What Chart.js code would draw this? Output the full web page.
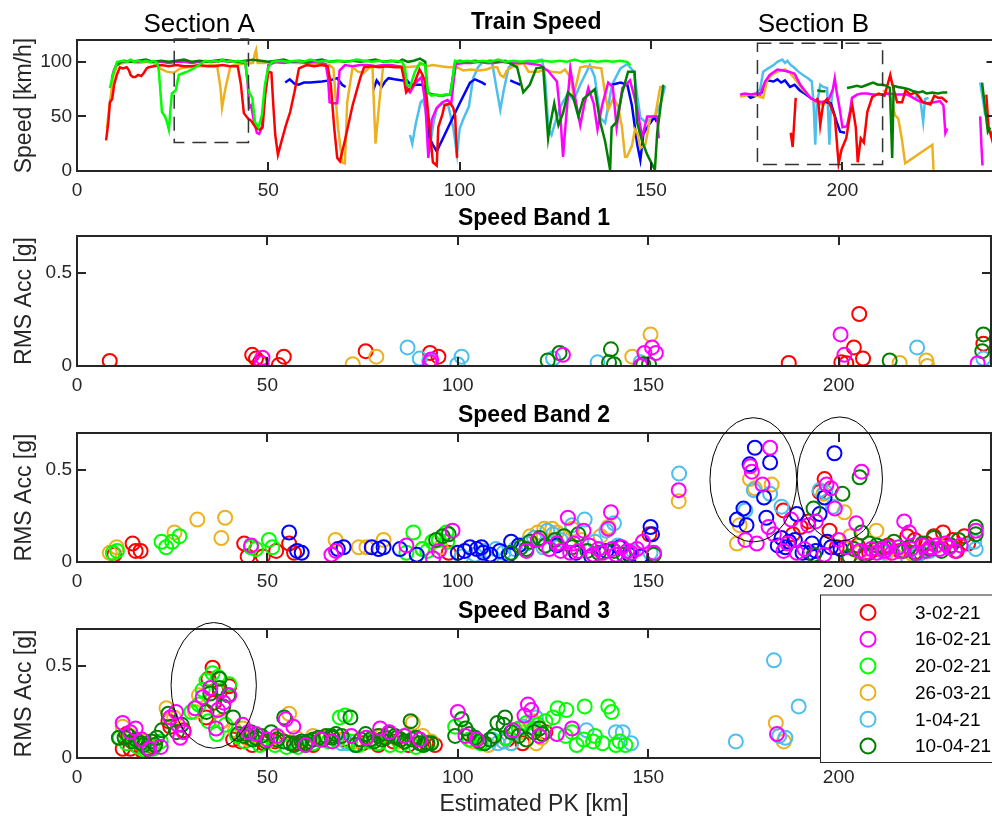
<!DOCTYPE html>
<html lang="en">
<head>
<meta charset="UTF-8">
<title>Train Speed and RMS Acceleration</title>
<script src="https://cdn.jsdelivr.net/npm/chart.js"></script>
<style>
    body { margin: 0; background: #fff; overflow: hidden; width: 992px; height: 819px; }
    .panel { position: absolute; left: 0; }
</style>
</head>
<body>
<canvas id="speedChart" class="panel" style="top:0px" width="1000" height="205"></canvas>
<canvas id="band1Chart" class="panel" style="top:196px" width="1000" height="205"></canvas>
<canvas id="band2Chart" class="panel" style="top:393px" width="1000" height="204"></canvas>
<canvas id="band3Chart" class="panel" style="top:589px" width="1000" height="230"></canvas>
<script>
// axis ticks
const pkTicks = [0, 50, 100, 150, 200];
const speedTicks = [0, 50, 100];
const accTicks = [0, 0.5];

// measurement runs (legend order)
const runDates = ['3-02-21', '16-02-21', '20-02-21', '26-03-21', '1-04-21', '10-04-21'];

// train speed [PK km, km/h]; [x, null] breaks the line
const spd3feb = [[7.6,28],[8.2,45],[8.6,63],[9.2,66],[9.7,79],[10.4,88],[11.2,95],[12,94],[13,95],[13.6,92],[14,88],[14.6,86],[15.2,86],[16,88],[16.8,87],[17.5,90],[18.2,94],[18.7,95],[20,96],[22,97],[24,96],[26,97],[28,96],[30,96],[32,97],[34,96],[36,96],[38,97],[40,96],[42,96],[42.8,80],[43.6,53],[44.7,48],[45.5,46],[46.3,42],[47,39],[47.8,38],[48.5,40],[49.2,70],[50,91],[50.8,90],[51.3,60],[51.8,33],[52.5,15],[53.5,28],[54.6,42],[55.7,54],[56.8,72],[58,94],[60,97],[62,96],[64,97],[65.5,96],[66.3,80],[67.2,40],[68,12],[68.7,9],[70,28],[72,60],[74,85],[75,95],[77,96],[79,95],[81,96],[83,95],[84.8,95],[85.4,85],[86,72],[87,76],[88,79],[89.5,93],[90.3,88],[91,81],[91.7,55],[92.3,33],[93,8],[94,5],[94.4,40],[95.5,52],[96,60],[97.5,62],[98.3,58],[98.8,51],[99.3,12],[140,null],
    [186.5,35],[187,22],[187.8,67],[190,null],
    [193.4,67],[193.8,60],[194.2,42],[195,62],[196,66],[197,59],[198,50],[199,7],[199.8,20],[201,30],[202,52],[202.6,60],[203.5,40],[204,8],[204.8,30],[205.6,26],[206.5,54],[207.8,68],[209.5,71],[211,69],[212.5,88],[213,80],[214.3,63],[215.6,63],[216.5,74],[217.8,70],[219,72],[220,68],[221,63],[222,62],[223,61],[224,69],[225,67],[226,67],[227.4,63],[230,null],
    [237.6,70],[238.2,40],[239,30],[240,50]];
const spd16feb = [[9.1,85],[9.6,92],[10.5,99],[12,100],[14,101],[16,100],[18,101],[20,100],[22,100],[24,99],[26,100],[28,100],[30,99],[32,100],[34,100],[36,100],[38,101],[40,100],[42,100],[44,99],[44.6,80],[45,58],[45.5,60],[46.2,46],[47,35],[47.6,34],[48.3,40],[49,70],[50,97],[52,100],[54,99],[56,100],[58,100],[60,99],[62,100],[64,99],[65,98],[65.6,85],[66,63],[67,62],[68,62],[68.6,92],[70,97],[72,96],[74,97],[76,97],[78,96],[80,97],[82,97],[84,96],[85.5,95],[86.2,76],[87,72],[88,78],[88.8,82],[90,86],[91,63],[91.8,12],[92.7,47],[94,58],[95.5,63],[96.8,65],[97.8,62],[98.5,85],[99,98],[101,99],[103,99],[105,100],[107,99],[109,99],[111,100],[113,99],[115,99],[117,99],[119,98],[121,97],[123,92],[125.4,82],[126.3,50],[127,13],[127.6,40],[128.9,94],[130,70],[131.5,42],[132.5,60],[133.6,76],[135,62],[136,38],[137.2,60],[138.8,81],[140,77],[141,40],[142.5,76],[144.5,83],[145.5,70],[146.4,56],[147.7,31],[149,50],[150.5,50],[151.6,50],[152,30],[160,null],
    [173.3,70],[174.5,71],[176,70],[177.5,71],[178.5,70],[179.8,82],[181,88],[183,93],[184.5,92],[186,91],[187.5,89],[189,79],[190.3,73],[191.6,67],[193,64],[194.2,63],[195.5,64],[196.5,66],[197.5,75],[198,85],[198.6,70],[199,63],[199.6,50],[200,40],[201.2,41],[202,55],[202.5,67],[203.8,70],[205,71],[206.4,71],[208,70],[210,70],[212,71],[214,70],[216,70],[217,70],[218.5,67],[220,64],[222,62],[224,63],[225.5,64],[226.4,60],[226.9,35],[227.4,39],[230,null],
    [236,50],[236.3,25],[236.6,5]];
const spd20feb = [[8.6,76],[9.5,90],[10.5,100],[12,101],[13,100],[14,102],[15,100],[16,101],[17,100],[18,101],[19,100],[20,101],[21,99],[21.4,91],[22.2,54],[23,50],[23.5,45],[24,38],[24.5,60],[24.8,71],[25.8,74],[26.6,88],[28,90],[28.8,91],[30,93],[31.4,96],[33.5,101],[35,100],[36,101],[37,100],[38,102],[39,100],[40,101],[41,100],[42,101],[43,100],[43.9,100],[45,72],[45.8,67],[46.5,45],[47.4,40],[48.3,51],[49.1,79],[50,95],[51,100],[53,101],[55,100],[57,101],[59,100],[61,102],[63,100],[65,101],[67,100],[69,101],[71,100],[73,102],[75,101],[77,100],[79,101],[81,100],[83,101],[85,100],[85.7,94],[86.2,79],[87,77],[88.3,91],[89.6,99],[91,97],[91.7,72],[92.6,69],[94,70],[95,69],[96,70],[97.5,70],[98.2,85],[98.8,101],[100,100],[102,101],[104,100],[106,101],[108,100],[110,102],[112,100],[114,101],[116,100],[118,101],[120,100],[122,101],[124,100],[126,101],[128,100],[130,102],[132,100],[134,101],[136,100],[138,101],[140,100],[142,101],[143.7,100],[144.6,97]];
const spd26mar = [[7.8,39],[8.6,63],[9.5,87],[10.5,97],[12,99],[14,100],[16,99],[18,100],[20,99],[21.7,94],[23.4,91],[25.3,90],[27,94],[29,95],[31,96],[33,96],[35,97],[36.6,97],[37.5,76],[37.9,58],[38.8,76],[40.1,96],[42,98],[44,98],[46,99],[46.5,108],[46.8,111],[47.2,99],[49,99],[51,100],[53,99],[55,100],[57,99],[59,99],[61,98],[63,98],[65,97],[66,97],[67,94],[68.2,40],[69.3,8],[70,7],[70.6,63],[72,95],[73.4,91],[75,90],[76.2,94],[77.2,96],[77.6,60],[78,25],[79,63],[80,96],[82,96],[84,96],[86,95],[88.8,96],[90,98],[91.5,96],[93,97],[95,96],[97,95],[99.3,95],[101,92],[103,93],[105,92],[107,93],[108.5,95],[109.8,95],[110.6,88],[111.5,86],[112.3,92],[114,96],[116.6,99],[118,91],[120.7,91],[122,93],[124,91],[126.3,90],[127.5,93],[128.9,86],[129.7,71],[130.5,80],[131.5,95],[133,96],[135,95],[137,94],[138,70],[138.8,56],[140.2,67],[141.4,59],[142.4,40],[143.2,13],[143.7,13],[145,23],[145.8,38],[146.4,35],[147.2,21],[148.5,24],[149.8,49],[151.1,51],[152.4,77],[153.2,77],[160,null],
    [173.3,68],[174.5,69],[176,70],[177.5,69],[179.3,67],[180.3,83],[181.5,88],[183,91],[185,93],[186.2,90],[187.2,86],[188.5,80],[189.7,74],[191,70],[192.3,65],[193.5,62],[194.5,61],[195.5,61],[200,null],
    [210.6,74],[211.5,72],[212.5,68],[213.8,51],[214.6,48],[215.5,30],[216.4,7],[223.5,24],[223.8,1]];
const spd1apr = [[87,33],[87.6,25],[88.5,43],[89.8,63],[90.4,65],[91,57],[92.3,24],[93.2,45],[94,57],[95.5,62],[97,60],[98.3,40],[99.3,15],[100,39],[101,48],[102.4,59],[103.5,85],[104.8,95],[106,100],[107.3,99],[108.5,99],[109.4,80],[110.6,56],[111.5,74],[112.8,95],[114,99],[116,100],[118,99],[120,101],[121.5,102],[122.3,86],[123.2,38],[124,33],[125,45],[126.3,59],[128.3,71],[129.8,65],[131.5,79],[134,97],[135.3,86],[136.7,49],[138,44],[139.8,79],[142,94],[143.8,98],[145.5,91],[147.2,49],[148.5,45],[150,48],[151,50],[152.5,62],[153.7,78],[160,null],
    [173.3,69],[175,70],[177,69],[178.5,75],[179.3,91],[180.6,94],[182,97],[183,100],[184.3,102],[185,99],[185.6,101],[186.5,97],[187.3,95],[188.5,91],[189.7,88],[191,85],[192,82],[192.5,60],[192.9,24],[193.3,60],[194.2,79],[195,77],[196,76],[196.3,50],[196.6,24],[197,60],[197.5,74],[210,null],
    [219,68],[220.3,67],[221.1,45],[221.6,66],[222.5,67],[230,null],
    [236,81],[236.7,66],[237.3,51]];
const spd10apr = [[10.5,97],[11.5,100],[12.3,101],[14,100],[16,101],[18,102],[20,100],[22,101],[24,100],[26,101],[28,102],[30,100],[32,101],[34,100],[36,101],[38,102],[40,101],[42,100],[44,101],[46,102],[48,101],[50,100],[52,101],[54,102],[56,100],[58,101],[60,100],[62,101],[64,102],[66,100],[68,101],[70,100],[72,101],[74,100],[76,101],[78,102],[80,100],[82,101],[84,100],[85,102],[86.5,100],[88,101],[89.6,103],[91,100],[91.5,72],[93,70],[95,69],[97.5,70],[98.8,100],[100,101],[102,100],[104,101],[106,100],[108,101],[110,100],[112,101],[114,97],[115,95],[116.6,72],[118.3,79],[120,94],[121.8,95],[122.3,70],[123.1,30],[123.5,40],[124.7,62],[125.8,42],[127,53],[128.3,72],[129.6,68],[131,50],[132.3,66],[134,71],[135.3,75],[136.7,45],[138,27],[139.3,1],[139.7,40],[141,45],[142.4,71],[144,91],[145.7,91],[146.3,45],[147.7,27],[149,15],[151,1],[151.6,35],[153.2,79],[170,null],
    [193.4,74],[194.5,73],[195.6,73],[198,null],
    [201.2,76],[202.5,77],[203.8,78],[205,77],[206.5,79],[208,81],[209.3,79],[210.6,79],[211.5,78],[212.4,76],[213,12],[213.4,78],[214.5,77],[216,76],[217.3,75],[218.6,73],[220,72],[221,73],[222,71],[223.5,72],[225,71],[226.3,72],[227.4,72],[230,null],
    [236.5,81],[237.2,60],[238,36],[238.6,40]];
const spdOther = [[54.4,81],[55.6,84],[56.8,80],[57.9,79],[59.3,81],[60.9,81],[64,82],[66,83],[68,85],[69.3,79],[70.2,77],[74,null],
    [77.4,74],[78.3,83],[79.6,77],[80.5,82],[81.4,85],[83,84],[85,83],[86,84],[87.2,79],[88.3,79],[90,79],[91,77],[91.7,33],[93,24],[94,18],[97,40],[100,62],[102.7,81],[104,84],[105.9,81],[106.8,79],[110,null],
    [113.2,83],[114.5,81],[115.9,79],[130,null],
    [139.8,79],[142,81],[143.8,79],[145,60],[146.4,24],[147.2,10],[148,34],[149.4,42],[151,50],[151.4,45],[160,null],
    [175,70],[176,67],[177.5,69],[179,72],[180.3,83],[182,82],[183,84],[184,81],[185,83],[186.3,77],[187.5,79],[188.8,74],[190.5,70],[192,66],[193.2,64],[194.5,63],[195.9,63],[197,62],[198.5,45],[199.4,36],[200.7,35]];

// RMS acceleration, speed band 1 [PK km, g]
const b1_3feb = [[8.6,0.027],[46,0.06],[47,0.04],[48,0.02],[53,0.005],[54.3,0.05],[75.8,0.08],[92.7,0.07],[94.9,0.05],[186.9,0.016],[200.7,0.02],[202,0.015],[204,0.10],[205.4,0.28],[206.4,0.04],[238,0.12]];
const b1_16feb = [[48.7,0.045],[48.5,0.015],[92.7,0.02],[93,0.035],[127.6,0.06],[148,0.0],[149,0.07],[151,0.10],[152,0.07],[200.5,0.17],[201.5,0.06],[236.5,0.015]];
const b1_20feb = [];
const b1_26mar = [[72.4,0.01],[78.6,0.05],[145.8,0.05],[150.6,0.17],[216,0.016],[223,0.03],[223.3,0.0]];
const b1_1apr = [[86.8,0.10],[90,0.04],[92.5,0.03],[99.9,0.01],[101,0.05],[125,0.04],[136.7,0.02],[148,0.02],[220.6,0.10],[238,0.04]];
const b1_10apr = [[123.6,0.03],[126.7,0.07],[140.2,0.09],[139.7,0.02],[141,0.01],[148.7,0.01],[150.2,0.01],[213.4,0.03],[238,0.17],[237.7,0.08]];
const b1_other = [];

// speed band 2
const b2_3feb = [[9.8,0.04],[14.6,0.10],[15.4,0.06],[16.7,0.06],[43.9,0.10],[44.8,0.03],[48.8,0.03],[52.3,0.06],[55.7,0.10],[57,0.05],[97.6,0.05],[150.3,0.15],[185.5,0.28],[188,0.15],[190,0.19],[192,0.22],[195,0.38],[196.3,0.45],[197.6,0.17],[199.5,0.08],[202.5,0.02],[205,0.09],[208,0.05],[210,0.07],[213,0.09],[216,0.06],[218,0.14],[220,0.12],[221.5,0.05],[223,0.10],[225,0.14],[227.4,0.16],[229,0.08],[230,0.12],[231,0.06],[233,0.14],[234,0.10]];
const b2_16feb = [[45.7,0.09],[66.8,0.04],[68,0.06],[86.5,0.09],[93.5,0.02],[95,0.06],[98.6,0.17],[118,0.06],[121,0.12],[124,0.07],[126,0.10],[127,0.06],[128.9,0.24],[129.5,0.05],[130.5,0.10],[131.6,0.06],[133,0.17],[134.5,0.09],[135.5,0.04],[136.9,0.07],[138,0.05],[139.5,0.18],[140.2,0.27],[140.5,0.07],[141.5,0.04],[143,0.08],[144.5,0.06],[145.5,0.05],[147,0.07],[148.6,0.11],[151.5,0.05],[158,0.39],[175.5,0.12],[176.8,0.52],[177.2,0.49],[178.5,0.10],[180,0.42],[181.6,0.19],[182,0.62],[183,0.15],[185.5,0.06],[186.6,0.10],[187.5,0.23],[189,0.05],[191,0.07],[192,0.20],[194,0.22],[196.2,0.04],[196.8,0.42],[198,0.40],[199,0.29],[200,0.12],[202,0.08],[204.6,0.21],[205.5,0.06],[206,0.49],[207,0.05],[208.5,0.07],[210,0.05],[211.5,0.07],[212,0.06],[213,0.08],[214,0.05],[215.8,0.08],[216.5,0.06],[217.2,0.22],[218.5,0.16],[219,0.07],[220.5,0.05],[222,0.09],[223,0.06],[224,0.08],[225.5,0.09],[226.5,0.07],[228,0.10],[229,0.08],[230.5,0.06],[232,0.09],[236,0.17]];
const b2_20feb = [[9.4,0.05],[10.5,0.06],[22.2,0.11],[23.4,0.08],[25,0.11],[26.9,0.14],[45.7,0.08],[47,0.07],[50.4,0.12],[51.3,0.08],[86.5,0.05],[88.3,0.16],[90.7,0.07],[92,0.06],[93.3,0.11],[95,0.12],[97,0.16],[97.2,0.11]];
const b2_26mar = [[8.6,0.05],[10.4,0.08],[25.6,0.16],[31.6,0.23],[37.9,0.13],[38.9,0.24],[67.9,0.12],[74,0.08],[76,0.08],[80.5,0.12],[90.7,0.07],[95.5,0.08],[119,0.14],[121,0.16],[122.7,0.18],[124.8,0.18],[126,0.16],[127.5,0.14],[130,0.18],[132.5,0.12],[137.5,0.14],[139.5,0.19],[158,0.33],[173.3,0.10],[174,0.20],[176.7,0.45],[178,0.40],[182.4,0.42],[196,0.37],[201.5,0.27],[203,0.14],[205.5,0.05],[209.9,0.17],[212.5,0.05],[215,0.03],[219.5,0.04],[226,0.09]];
const b2_1apr = [[101,0.03],[104.5,0.04],[107,0.06],[109,0.03],[110,0.07],[112,0.05],[115,0.07],[118,0.10],[120,0.13],[122.4,0.08],[123.5,0.17],[125,0.15],[127,0.12],[130,0.20],[133.3,0.23],[136,0.11],[139,0.17],[141,0.21],[142,0.09],[146,0.06],[150.6,0.05],[158.1,0.48],[175.5,0.28],[177.7,0.39],[182,0.37],[185,0.30],[195,0.39],[196.5,0.38],[198.5,0.30],[212,0.05],[218,0.03],[220.8,0.04],[224,0.06],[235.6,0.11],[236,0.07]];
const b2_10apr = [[94.3,0.12],[96,0.14],[97.6,0.15],[114,0.05],[116.6,0.08],[118,0.07],[119,0.11],[121.5,0.13],[123,0.09],[125.5,0.12],[127.9,0.14],[130,0.08],[131.6,0.15],[134,0.06],[137,0.05],[141,0.06],[143.5,0.04],[151.5,0.04],[193.4,0.29],[193.5,0.04],[201,0.37],[202.8,0.03],[204,0.07],[205.5,0.46],[206,0.16],[207,0.04],[208,0.10],[210,0.09],[212,0.08],[214.5,0.11],[217,0.06],[218.5,0.08],[220,0.05],[222,0.10],[224,0.07],[225,0.13],[227,0.06],[229.5,0.09],[231.5,0.12],[236,0.19],[236,0.15]];
const b2_other = [[55.7,0.16],[57.8,0.06],[59,0.05],[68.5,0.07],[70,0.08],[77.4,0.08],[79.2,0.07],[80.5,0.08],[84.8,0.07],[89.2,0.04],[100,0.05],[101.8,0.06],[103.2,0.08],[105,0.07],[106.2,0.08],[106.7,0.05],[108.5,0.04],[111,0.06],[113.4,0.04],[114,0.11],[116,0.09],[126,0.09],[131,0.05],[135,0.03],[139,0.06],[142.5,0.08],[145,0.04],[148,0.03],[150.6,0.19],[151,0.15],[173.3,0.23],[175,0.29],[175.8,0.20],[176.6,0.53],[178,0.62],[180.4,0.35],[181,0.24],[182,0.54],[184,0.09],[185,0.13],[186,0.08],[187,0.11],[188.5,0.12],[189,0.26],[190.5,0.05],[192.4,0.05],[193,0.10],[194,0.06],[195,0.26],[196.3,0.35],[197,0.11],[198,0.08],[198.9,0.59],[200.5,0.07]];

// speed band 3
const b3_3feb = [[12,0.05],[13,0.13],[14,0.05],[15.4,0.07],[17,0.04],[20,0.06],[24,0.20],[24.5,0.17],[28,0.15],[33.9,0.22],[34.5,0.43],[35.6,0.49],[36,0.30],[37.5,0.36],[38,0.20],[40,0.39],[41,0.10],[43,0.09],[46,0.07],[49,0.08],[52,0.09],[57,0.08],[62,0.07],[70,0.10],[75,0.08],[79.1,0.07],[83,0.09],[87,0.07],[91.7,0.08],[94,0.07],[113,0.10],[117,0.08],[123,0.14]];
const b3_16feb = [[12,0.19],[14,0.14],[15.4,0.16],[17,0.10],[19,0.05],[22,0.06],[24.5,0.22],[26,0.25],[26.5,0.18],[27.1,0.11],[28,0.14],[31,0.27],[33,0.33],[35,0.38],[36.5,0.16],[37,0.26],[38.5,0.30],[40,0.34],[43.5,0.18],[45,0.14],[47,0.13],[50,0.10],[52.5,0.12],[54.8,0.21],[56.8,0.17],[60,0.07],[64,0.10],[67,0.09],[72,0.12],[76,0.11],[79.6,0.16],[82,0.14],[86,0.12],[90,0.10],[100,0.25],[102,0.12],[105,0.10],[114.5,0.15],[117.5,0.23],[118.4,0.29],[119.3,0.26],[121.4,0.12],[126,0.13],[130,0.16],[183.8,0.13]];
const b3_20feb = [[11.2,0.11],[13,0.08],[16,0.06],[18,0.04],[20,0.05],[22,0.09],[30,0.25],[32,0.29],[33,0.37],[34,0.42],[34.5,0.20],[35.6,0.46],[36.7,0.13],[37,0.44],[39,0.18],[40,0.40],[42,0.12],[44,0.09],[48,0.07],[52,0.07],[55,0.06],[58,0.06],[60,0.07],[62,0.08],[66,0.09],[69,0.22],[70.4,0.23],[71.7,0.09],[74,0.07],[77,0.09],[79,0.08],[82.2,0.07],[85,0.07],[89,0.06],[92,0.08],[99.3,0.17],[101,0.21],[103,0.10],[106,0.08],[112.5,0.11],[116,0.16],[118,0.19],[120,0.16],[121,0.18],[123,0.20],[125,0.22],[126.2,0.27],[128.3,0.12],[128.5,0.26],[130,0.14],[131.2,0.07],[133,0.10],[133.3,0.28],[135.5,0.09],[136,0.12],[138,0.08],[139.5,0.28],[140.4,0.25],[141.5,0.07],[142.5,0.09],[144,0.07]];
const b3_26mar = [[12,0.17],[14,0.12],[16.5,0.08],[18,0.09],[20,0.07],[23.5,0.27],[25.5,0.22],[31,0.25],[32,0.34],[38,0.20],[41.5,0.15],[43.5,0.16],[45,0.10],[46,0.12],[50,0.09],[53,0.11],[55.7,0.24],[57.5,0.11],[60.5,0.09],[62,0.12],[65,0.11],[68.5,0.10],[73,0.09],[76,0.11],[80,0.12],[84.5,0.09],[87,0.13],[88.2,0.19],[90.8,0.12],[93,0.09],[104,0.09],[108,0.07],[112,0.09],[114,0.08],[116.5,0.14],[119.7,0.20],[120.6,0.08],[122,0.11],[183.5,0.19],[185.6,0.09]];
const b3_1apr = [[69.5,0.08],[71,0.08],[73,0.07],[109,0.10],[110.5,0.08],[112,0.09],[114,0.08],[117.2,0.17],[120.5,0.22],[133.8,0.15],[141.5,0.14],[143.3,0.14],[145.5,0.08],[173,0.09],[183,0.53],[184.4,0.12],[186,0.11],[189.5,0.28]];
const b3_10apr = [[11,0.11],[12.5,0.11],[13.5,0.12],[14.4,0.09],[15.5,0.10],[16.8,0.08],[17.5,0.07],[18.5,0.05],[19.5,0.09],[20.5,0.07],[21,0.11],[22.3,0.15],[24,0.24],[26.2,0.14],[27.5,0.18],[34,0.25],[35,0.35],[37.4,0.43],[37.4,0.38],[38.4,0.28],[39.7,0.34],[41,0.22],[42.3,0.13],[43.8,0.12],[44.5,0.13],[45.7,0.14],[46.2,0.10],[47,0.11],[48.4,0.12],[49.5,0.09],[51,0.14],[52.5,0.10],[54.3,0.09],[54.4,0.22],[56,0.08],[57,0.07],[58.3,0.08],[59,0.09],[60,0.08],[61,0.09],[62,0.10],[63.5,0.11],[64.5,0.10],[65.4,0.12],[66.8,0.12],[67,0.11],[68,0.13],[69.5,0.12],[71.8,0.22],[73.2,0.07],[74.5,0.10],[75.8,0.13],[77,0.10],[78,0.09],[79.1,0.12],[80,0.10],[81,0.11],[82,0.13],[83.5,0.12],[84,0.11],[85,0.10],[86,0.09],[87.6,0.20],[88,0.10],[89,0.11],[90,0.08],[91,0.07],[92,0.08],[93,0.08],[99.3,0.12],[101,0.21],[102,0.16],[103,0.13],[104.5,0.11],[105.6,0.09],[107,0.08],[108.4,0.10],[109.5,0.12],[110.4,0.19],[112,0.18],[112.4,0.22],[114,0.14],[116,0.12],[118,0.10],[120,0.14],[121.4,0.16],[122.2,0.13]];
const b3_other = [];

// highlighted regions, in axis units
const sectionBoxes = [
    { name: 'Section A', x0: 25.4, x1: 44.8, y0: 26, y1: 121, labelX: 31.9 },
    { name: 'Section B', x0: 177.8, x1: 210.5, y0: 6, y1: 117, labelX: 192.4 }
];
const band2Rings = [{ cx: 177.6, cy: 0.446, rx: 11.4, ry: 0.337 }, { cx: 200.3, cy: 0.45, rx: 11.2, ry: 0.337 }];
const band3Rings = [{ cx: 35.9, cy: 0.394, rx: 11.2, ry: 0.341 }];

const runColors = ['#ff0000', '#ff00ff', '#00ff00', '#edb120', '#4dbeee', '#008000'];
const otherColor = '#0000ff';
const INK = '#262626';

Chart.defaults.font.family = '"Liberation Sans", Arial, Helvetica, sans-serif';
Chart.defaults.color = INK;

// frame, inward ticks and the overlays for each panel
const panelFrame = {
    id: 'panelFrame',
    afterDatasetsDraw(chart, args, opts) {
        const { ctx, chartArea: a, scales: { x, y } } = chart;
        ctx.save();
        ctx.strokeStyle = INK;
        ctx.lineWidth = 2;
        ctx.strokeRect(a.left, a.top, a.right - a.left, a.bottom - a.top);
        ctx.beginPath();
        x.ticks.forEach(t => {
            const px = Math.round(x.getPixelForValue(t.value));
            ctx.moveTo(px, a.bottom); ctx.lineTo(px, a.bottom - 9);
            ctx.moveTo(px, a.top); ctx.lineTo(px, a.top + 9);
        });
        y.ticks.forEach(t => {
            const py = Math.round(y.getPixelForValue(t.value));
            ctx.moveTo(a.left, py); ctx.lineTo(a.left + 9, py);
            ctx.moveTo(a.right, py); ctx.lineTo(a.right - 9, py);
        });
        ctx.stroke();

        (opts.boxes || []).forEach(b => {
            const l = x.getPixelForValue(b.x0), r = x.getPixelForValue(b.x1);
            const t = y.getPixelForValue(b.y1), bt = y.getPixelForValue(b.y0);
            ctx.setLineDash([14, 8]);
            ctx.lineWidth = 1.5;
            ctx.strokeStyle = '#333';
            ctx.strokeRect(l, t, r - l, bt - t);
            ctx.setLineDash([]);
            ctx.fillStyle = '#000';
            ctx.font = '26px "Liberation Sans", Arial, sans-serif';
            ctx.textAlign = 'center';
            ctx.textBaseline = 'alphabetic';
            ctx.fillText(b.name, x.getPixelForValue(b.labelX), a.top - 8);
        });

        (opts.rings || []).forEach(e => {
            const cx = x.getPixelForValue(e.cx), cy = y.getPixelForValue(e.cy);
            const rx = x.getPixelForValue(e.cx + e.rx) - cx;
            const ry = cy - y.getPixelForValue(e.cy + e.ry);
            ctx.beginPath();
            ctx.lineWidth = 1;
            ctx.strokeStyle = '#000';
            ctx.ellipse(cx, cy, rx, ry, 0, 0, Math.PI * 2);
            ctx.stroke();
        });

        if (opts.legend) {
            const left = 820.5, top = a.top - 34, bottom = a.bottom + 4.5;
            ctx.fillStyle = '#fff';
            ctx.fillRect(left, top, chart.width - left + 5, bottom - top);
            ctx.lineWidth = 1;
            ctx.strokeStyle = INK;
            ctx.strokeRect(left, top, chart.width - left + 5, bottom - top);
            ctx.font = '19px "Liberation Sans", Arial, sans-serif';
            ctx.textAlign = 'left';
            ctx.textBaseline = 'middle';
            runDates.forEach((d, i) => {
                const ry = top + 17.5 + i * 26.7;
                ctx.beginPath();
                ctx.lineWidth = 2;
                ctx.strokeStyle = runColors[i];
                ctx.arc(left + 47.5, ry, 7.5, 0, Math.PI * 2);
                ctx.stroke();
                ctx.fillStyle = '#000';
                ctx.fillText(d, left + 94.5, ry + 1);
            });
        }
        ctx.restore();
    }
};

function pts(arr) {
    return arr.map(([x, y]) => ({ x, y }));
}

function xAxis(height, withTitle) {
    return {
        type: 'linear', min: 0, max: 240,
        afterBuildTicks: s => { s.ticks = pkTicks.map(v => ({ value: v })); },
        afterFit: s => { s.height = height; },
        grid: { display: false, drawTicks: false },
        border: { display: false },
        ticks: { font: { size: 19 }, color: INK, padding: 8, maxRotation: 0, autoSkip: false, callback: v => String(v) },
        title: { display: withTitle, text: 'Estimated PK [km]', font: { size: 23 }, color: INK, padding: { top: 0, bottom: 1 } }
    };
}

function yAxis(max, ticks, label) {
    return {
        type: 'linear', min: 0, max: max,
        afterBuildTicks: s => { s.ticks = ticks.map(v => ({ value: v })); },
        afterFit: s => { s.width = 77; },
        grid: { display: false, drawTicks: false },
        border: { display: false },
        ticks: { font: { size: 19 }, color: INK, padding: 5, callback: v => String(v) },
        title: { display: true, text: label, font: { size: 23 }, color: INK, padding: { top: 11, bottom: 0 } }
    };
}

function panelOptions(title, xHeight, withXTitle, yMax, yTicks, yLabel, decor) {
    return {
        responsive: false,
        animation: false,
        events: [],
        layout: { padding: { top: 0, right: 4.5, bottom: 0, left: 0 } },
        scales: { x: xAxis(xHeight, withXTitle), y: yAxis(yMax, yTicks, yLabel) },
        plugins: {
            legend: { display: false },
            tooltip: { enabled: false },
            title: { display: true, text: title, fullSize: false, color: '#000', font: { size: 23, weight: 'bold' }, padding: { top: 9.2, bottom: 3.2 } },
            panelFrame: decor
        }
    };
}

function lineSet(label, color, arr) {
    return { label, data: pts(arr), showLine: true, borderColor: color, borderWidth: 2.5, pointRadius: 0, spanGaps: false, tension: 0, fill: false };
}

function ringSet(label, color, arr) {
    return { label, data: pts(arr), showLine: false, pointStyle: 'circle', pointRadius: 7, pointBorderWidth: 2, borderColor: color, pointBorderColor: color, backgroundColor: 'rgba(0,0,0,0)', pointBackgroundColor: 'rgba(0,0,0,0)' };
}

// first dataset is painted last (on top)
function bandSets(r, m, g, o, lb, dg, other) {
    return [
        ringSet(runDates[1], runColors[1], m),
        ringSet(runDates[5], runColors[5], dg),
        ringSet('', otherColor, other),
        ringSet(runDates[2], runColors[2], g),
        ringSet(runDates[4], runColors[4], lb),
        ringSet(runDates[3], runColors[3], o),
        ringSet(runDates[0], runColors[0], r)
    ];
}

new Chart(document.getElementById('speedChart'), {
    type: 'scatter',
    data: {
        datasets: [
            lineSet(runDates[2], runColors[2], spd20feb),
            lineSet(runDates[5], runColors[5], spd10apr),
            lineSet(runDates[0], runColors[0], spd3feb),
            lineSet(runDates[1], runColors[1], spd16feb),
            lineSet(runDates[3], runColors[3], spd26mar),
            lineSet('', otherColor, spdOther),
            lineSet(runDates[4], runColors[4], spd1apr)
        ]
    },
    options: panelOptions('Train Speed', 34, false, 120, speedTicks, 'Speed [km/h]', { boxes: sectionBoxes }),
    plugins: [panelFrame]
});

new Chart(document.getElementById('band1Chart'), {
    type: 'scatter',
    data: { datasets: bandSets(b1_3feb, b1_16feb, b1_20feb, b1_26mar, b1_1apr, b1_10apr, b1_other) },
    options: panelOptions('Speed Band 1', 35, false, 0.7, accTicks, 'RMS Acc [g]', {}),
    plugins: [panelFrame]
});

new Chart(document.getElementById('band2Chart'), {
    type: 'scatter',
    data: { datasets: bandSets(b2_3feb, b2_16feb, b2_20feb, b2_26mar, b2_1apr, b2_10apr, b2_other) },
    options: panelOptions('Speed Band 2', 35, false, 0.7, accTicks, 'RMS Acc [g]', { rings: band2Rings }),
    plugins: [panelFrame]
});

new Chart(document.getElementById('band3Chart'), {
    type: 'scatter',
    data: { datasets: bandSets(b3_3feb, b3_16feb, b3_20feb, b3_26mar, b3_1apr, b3_10apr, b3_other) },
    options: panelOptions('Speed Band 3', 61, true, 0.7, accTicks, 'RMS Acc [g]', { rings: band3Rings, legend: true }),
    plugins: [panelFrame]
});
</script>
</body>
</html>
